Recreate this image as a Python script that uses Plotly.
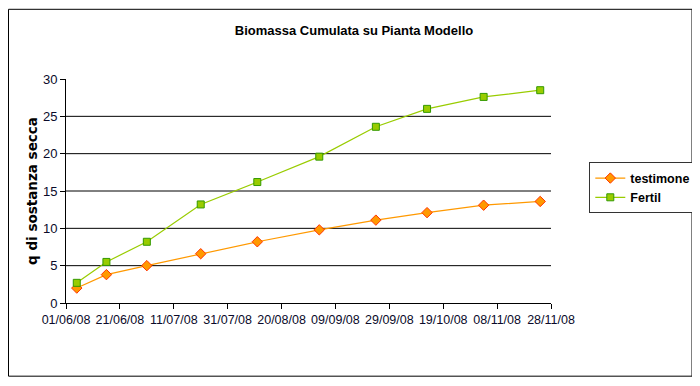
import plotly.graph_objects as go

# ---- data ----
dates = ["2008-06-05", "2008-06-16", "2008-07-01", "2008-07-21", "2008-08-11",
         "2008-09-03", "2008-09-24", "2008-10-13", "2008-11-03", "2008-11-24"]
testimone = [2.0, 3.8, 5.0, 6.6, 8.2, 9.8, 11.1, 12.1, 13.1, 13.6]
fertil = [2.7, 5.5, 8.2, 13.2, 16.2, 19.6, 23.6, 26.0, 27.6, 28.5]

x_tick_vals = ["2008-06-01", "2008-06-21", "2008-07-11", "2008-07-31", "2008-08-20",
               "2008-09-09", "2008-09-29", "2008-10-19", "2008-11-08", "2008-11-28"]
x_tick_text = ["01/06/08", "21/06/08", "11/07/08", "31/07/08", "20/08/08",
               "09/09/08", "29/09/08", "19/10/08", "08/11/08", "28/11/08"]
y_tick_vals = [0, 5, 10, 15, 20, 25, 30]
grid_levels = [5, 10, 15, 20, 25]

title = "Biomassa Cumulata su Pianta Modello"
y_title = "q di sostanza secca"

TXT = "#0a0a2a"
FONT = "Liberation Sans"

# page body has an 8px margin: figure is 692x378 placed at (8,8)
W, H = 692, 378
L, T, PW, PH = 58, 70.5, 485, 225

fig = go.Figure()
fig.add_trace(go.Scatter(
    x=dates, y=testimone, name="testimone", mode="lines+markers",
    line=dict(color="#FF9900", width=1.2),
    marker=dict(symbol="diamond", size=8, color="#FF9900",
                line=dict(color="#FF3300", width=1)),
))
fig.add_trace(go.Scatter(
    x=dates, y=fertil, name="Fertil", mode="lines+markers",
    line=dict(color="#99CC00", width=1.2),
    marker=dict(symbol="square", size=7, color="#99CC00",
                line=dict(color="#339900", width=1)),
))

shapes = []
for g in grid_levels:
    shapes.append(dict(type="line", xref="paper", yref="y", x0=0, x1=1, y0=g, y1=g,
                       line=dict(color="black", width=1), layer="below"))
# outer chart border
shapes.append(dict(type="rect", xref="paper", yref="paper",
                   x0=(0.5 - L) / PW, x1=(684 - L) / PW,
                   y0=(T + PH - 369) / PH, y1=(T + PH - 0.5) / PH,
                   line=dict(color="black", width=1)))

fig.update_layout(
    width=W, height=H,
    margin=dict(l=L, r=W - L - PW, t=T, b=H - T - PH, autoexpand=False),
    paper_bgcolor="white", plot_bgcolor="white",
    font=dict(family=FONT, size=13, color=TXT),
    title=dict(text="<b>" + title + "</b>", x=0.5, xanchor="center",
               y=1 - 22 / H, yanchor="middle",
               font=dict(family=FONT, size=13, color="black")),
    showlegend=True,
    legend=dict(x=(581.3 - L) / PW, y=(T + PH - 154.3) / PH,
                xanchor="left", yanchor="top",
                bordercolor="#333333", borderwidth=1, bgcolor="white",
                font=dict(family=FONT, size=12.5, color="black", weight="bold"),
                itemwidth=30, tracegroupgap=2),
    xaxis=dict(type="date", range=["2008-06-01", "2008-11-28"],
               tickvals=x_tick_vals, ticktext=x_tick_text,
               showgrid=False, zeroline=False, automargin=False,
               showline=True, linecolor="black", linewidth=1,
               ticks="outside", ticklen=5, tickcolor="black",
               tickfont=dict(family=FONT, size=12.5, color=TXT)),
    yaxis=dict(range=[0, 30], tickvals=y_tick_vals,
               showgrid=False, zeroline=False, automargin=False,
               showline=True, linecolor="black", linewidth=1,
               ticks="outside", ticklen=5, tickcolor="black",
               tickfont=dict(family=FONT, size=13, color=TXT),
               title=dict(text="<b>" + y_title + "</b>", standoff=2,
                          font=dict(family="DejaVu Sans", size=13.5, color="black"))),
    shapes=shapes,
)

fig.write_html("out.html")
